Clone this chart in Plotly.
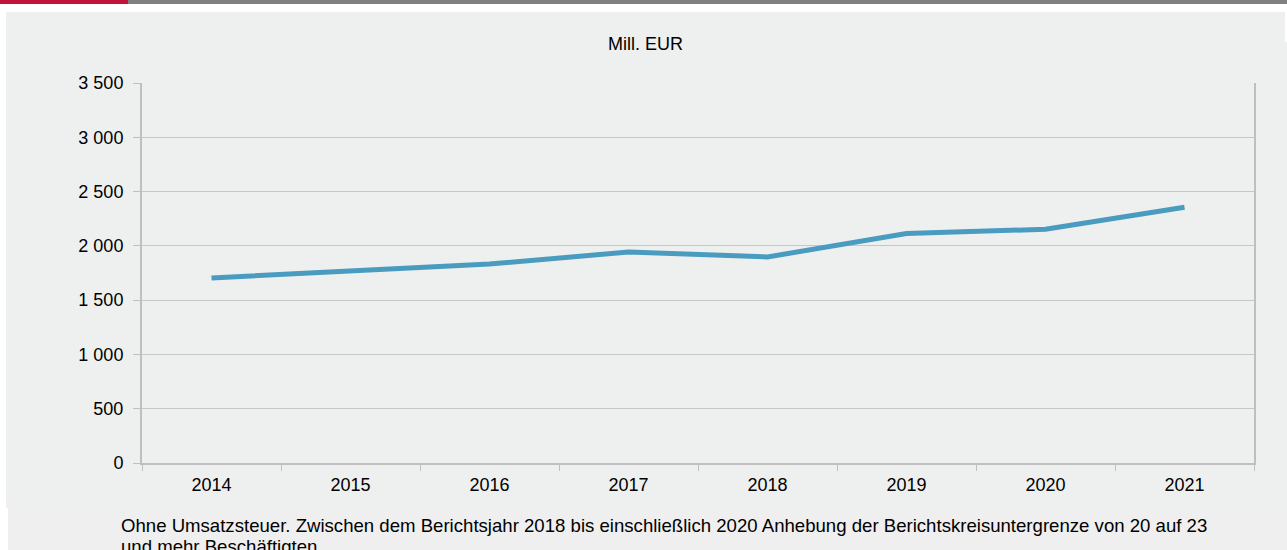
import plotly.graph_objects as go

years = ["2014", "2015", "2016", "2017", "2018", "2019", "2020", "2021"]
values = [1705, 1765, 1832, 1943, 1898, 2113, 2153, 2355]
y_ticks = [0, 500, 1000, 1500, 2000, 2500, 3000, 3500]
y_tick_labels = ["0", "500", "1 000", "1 500", "2 000", "2 500", "3 000", "3 500"]

W, H = 1287, 550
L, R, T, B = 142, 33, 83, 87
PW, PH = W - L - R, H - T - B

def px(x):
    return (x - L) / PW

def py(y):
    return (H - B - y) / PH

BG = "#eef0ef"
fig = go.Figure()
fig.add_trace(go.Scatter(
    x=years, y=values, mode="lines",
    line=dict(color="#4a9bc0", width=5),
    hoverinfo="x+y", showlegend=False,
))

shapes = [
    dict(type="rect", xref="paper", yref="paper", x0=px(0), x1=px(128), y0=py(0), y1=py(4),
         fillcolor="#c0143c", line_width=0, layer="below"),
    dict(type="rect", xref="paper", yref="paper", x0=px(128), x1=px(1287), y0=py(0), y1=py(4),
         fillcolor="#808080", line_width=0, layer="below"),
    dict(type="rect", xref="paper", yref="paper", x0=px(6), x1=px(1285), y0=py(12), y1=py(508),
         fillcolor=BG, line_width=0, layer="below"),
    dict(type="rect", xref="paper", yref="paper", x0=px(1285), x1=px(1287), y0=py(42), y1=py(508),
         fillcolor=BG, line_width=0, layer="below"),
    dict(type="rect", xref="paper", yref="paper", x0=px(8), x1=px(1287), y0=py(508), y1=py(550),
         fillcolor="#efefef", line_width=0, layer="below"),
]

font_family = "Liberation Sans, Arial, sans-serif"
FS = 18
FN = 18.6
annotations = [
    dict(text="Mill. EUR", xref="paper", yref="paper", x=px(645), y=py(44),
         xanchor="center", yanchor="middle", showarrow=False,
         font=dict(size=FS, color="#000000", family=font_family)),
    dict(text="Ohne Umsatzsteuer. Zwischen dem Berichtsjahr 2018 bis einschließlich 2020 Anhebung der Berichtskreisuntergrenze von 20 auf 23",
         xref="paper", yref="paper", x=px(119), y=py(525),
         xanchor="left", yanchor="middle", showarrow=False,
         font=dict(size=FN, color="#000000", family=font_family)),
    dict(text="und mehr Beschäftigten",
         xref="paper", yref="paper", x=px(119), y=py(546),
         xanchor="left", yanchor="middle", showarrow=False,
         font=dict(size=FN, color="#000000", family=font_family)),
]

fig.update_layout(
    width=W, height=H,
    margin=dict(l=L, r=R, t=T, b=B, autoexpand=False),
    paper_bgcolor="white",
    plot_bgcolor="rgba(0,0,0,0)",
    font=dict(family=font_family, size=FS, color="#000000"),
    shapes=shapes,
    annotations=annotations,
    showlegend=False,
    xaxis=dict(
        type="category", tickson="boundaries", ticks="outside", ticklen=6,
        tickcolor="#bfbfbf", showline=True, linecolor="#bfbfbf", linewidth=2,
        showgrid=False, zeroline=False, range=[-0.5, 7.5],
        tickfont=dict(size=FS), ticklabelstandoff=4,
    ),
    yaxis=dict(
        range=[0, 3500], tickvals=y_ticks, ticktext=y_tick_labels,
        ticks="outside", ticklen=7, tickcolor="#bfbfbf",
        showline=True, linecolor="#bfbfbf", linewidth=2, mirror=True,
        showgrid=True, gridcolor="#c6c6c6", gridwidth=1,
        zeroline=False, tickfont=dict(size=FS), ticklabelstandoff=6,
    ),
)

fig.write_html(
    "out.html",
    config={"displayModeBar": False},
    post_script="document.body.style.margin='0';document.body.style.overflow='hidden';",
)
